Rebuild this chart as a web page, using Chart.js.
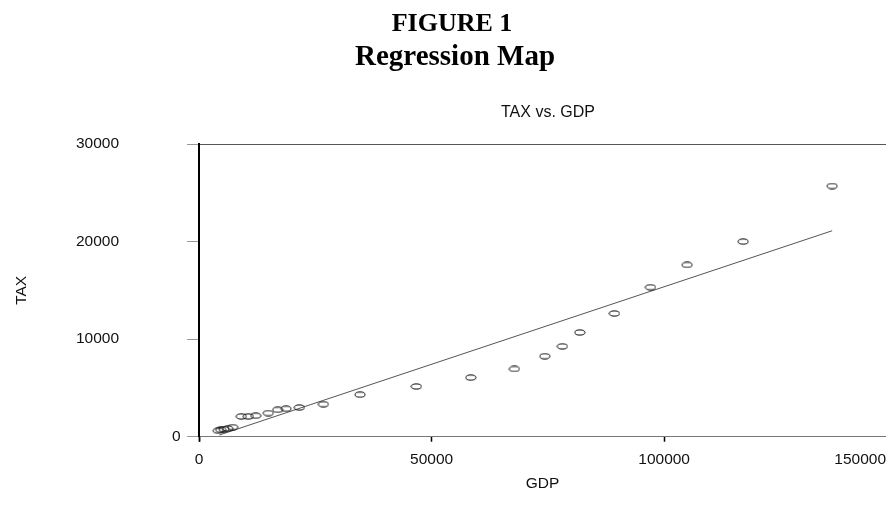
<!DOCTYPE html>
<html>
<head>
<meta charset="utf-8">
<script src="https://cdn.jsdelivr.net/npm/chart.js@4/dist/chart.umd.min.js"></script>
<style>
  html, body { margin: 0; padding: 0; background: #fff; overflow: hidden; }
  #wrap { position: relative; width: 886px; height: 514px; }
  canvas { position: absolute; left: 0; top: 0; }
  .head { position: absolute; text-align: center; white-space: nowrap;
          font-family: "Liberation Serif", "Times New Roman", serif; font-weight: bold; color: #000; }
  .sub { position: absolute; text-align: center; white-space: nowrap;
         font-family: "Liberation Sans", Arial, sans-serif; color: #111; }
</style>
</head>
<body>
<div id="wrap">
  <canvas id="c" width="886" height="514"></canvas>
  <div class="head" style="left:0; width:904px; top:10px; font-size:26px; line-height:26px;">FIGURE 1</div>
  <div class="head" style="left:0; width:910px; top:41px; font-size:29px; line-height:29px;">Regression Map</div>
  <div class="sub" style="left:0; width:1096px; top:104px; font-size:16px; line-height:16px;">TAX vs. GDP</div>
</div>
<script>
// Observations: GDP and TAX
const gdp = [4150, 4670, 5380, 6170, 7240, 9100, 10600, 12190, 14900, 16920, 18710, 21570,
             26740, 34620, 46730, 58430, 67810, 74340, 78130, 81870, 89310, 97060, 104950,
             116990, 136130];
const tax = [610, 710, 770, 840, 980, 2080, 2080, 2150, 2420, 2760, 2860, 2990,
             3330, 4310, 5150, 6060, 6940, 8250, 9260, 10680, 12630, 15320, 17610,
             20000, 25690];

// Fitted regression line, drawn between its two end points
const fitX = [4370, 136130];
const fitY = [170, 21110];

// Axis ranges and tick labels
const xMax = 147700;
const xTickValues = [0, 0, 50000, 100000, xMax];
const xTickLabels = ['', '0', '50000', '100000', '150000'];
const yTickValues = [0, 10000, 20000, 30000];
const yTickLabels = ['', '10000', '20000', '30000'];
const yZeroValues = [0];
const yZeroLabels = ['0'];

const points = gdp.map((v, i) => ({ x: v, y: tax[i] }));
const fit = fitX.map((v, i) => ({ x: v, y: fitY[i] }));

// Open elliptical marker
const marker = document.createElement('canvas');
marker.width = 12; marker.height = 7;
(function () {
  const m = marker.getContext('2d');
  m.strokeStyle = '#000';
  m.lineWidth = 1;
  m.beginPath();
  m.ellipse(6, 3.5, 5, 2.6, 0, 0, Math.PI * 2);
  m.stroke();
})();

const sans = '"Liberation Sans", Arial, sans-serif';
const tickFont = { family: sans, size: 15.5 };

new Chart(document.getElementById('c'), {
  type: 'scatter',
  data: {
    datasets: [
      {
        label: 'TAX',
        data: points,
        yAxisID: 'y',
        pointStyle: marker,
        pointRadius: 5,
        showLine: false
      },
      {
        label: 'Fit',
        data: fit,
        yAxisID: 'y',
        showLine: true,
        borderColor: '#555',
        borderWidth: 1,
        pointRadius: 0,
        fill: false
      }
    ]
  },
  options: {
    responsive: false,
    animation: false,
    devicePixelRatio: 1,
    layout: { padding: { top: 144, right: 0, bottom: 0, left: 0 }, autoPadding: false },
    plugins: { legend: { display: false }, tooltip: { enabled: false }, title: { display: false } },
    scales: {
      x: {
        type: 'linear',
        min: 0,
        max: xMax,
        afterBuildTicks: (s) => { s.ticks = xTickValues.map(v => ({ value: v })); },
        afterFit: (s) => { s.height = 73; s.paddingLeft = 0; s.paddingRight = 0; },
        ticks: {
          align: 'inner',
          autoSkip: false,
          maxRotation: 0,
          padding: 9,
          color: '#111',
          font: tickFont,
          callback: (v, i) => xTickLabels[i]
        },
        grid: {
          drawOnChartArea: false,
          tickLength: 5,
          tickWidth: 1.5,
          tickColor: (ctx) => (ctx.index === xTickValues.length - 1 ? 'rgba(0,0,0,0)' : '#000')
        },
        border: { display: true, color: '#777', width: 1 },
        title: {
          display: true,
          text: 'GDP',
          color: '#111',
          font: { family: sans, size: 15.5 },
          padding: { top: 0, bottom: 17 }
        }
      },
      y: {
        type: 'linear',
        position: 'left',
        weight: 1,
        min: 0,
        max: 30000,
        afterBuildTicks: (s) => { s.ticks = yTickValues.map(v => ({ value: v })); },
        afterFit: (s) => { s.width = 199; },
        ticks: {
          padding: 68,
          color: '#111',
          font: tickFont,
          callback: (v, i) => yTickLabels[i]
        },
        grid: {
          drawOnChartArea: true,
          color: (ctx) => (ctx.tick && ctx.tick.value === 30000 ? '#555' : 'rgba(0,0,0,0)'),
          lineWidth: 1,
          tickLength: 12,
          tickColor: '#999',
          tickWidth: 1
        },
        border: { display: true, color: '#000', width: 2 },
        title: {
          display: true,
          text: 'TAX',
          color: '#111',
          font: { family: sans, size: 15.5 },
          padding: { top: 12, bottom: 0 }
        }
      },
      // zero label of the vertical axis sits closer to the axis line
      y0: {
        type: 'linear',
        position: 'left',
        weight: 0,
        min: 0,
        max: 30000,
        afterBuildTicks: (s) => { s.ticks = yZeroValues.map(v => ({ value: v })); },
        afterFit: (s) => { s.width = 0; },
        ticks: {
          mirror: true,
          crossAlign: 'near',
          padding: -27,
          color: '#111',
          font: tickFont,
          callback: (v, i) => yZeroLabels[i]
        },
        grid: { display: false },
        border: { display: false }
      }
    }
  }
});
</script>
</body>
</html>
